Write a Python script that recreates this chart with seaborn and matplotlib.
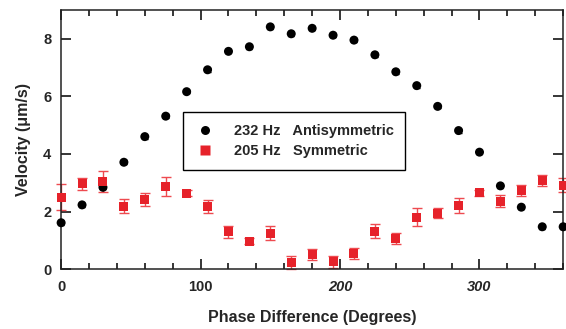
import matplotlib
matplotlib.use("Agg")
import matplotlib.pyplot as plt
import numpy as np
import pandas as pd
import seaborn as sns
from matplotlib.ticker import MultipleLocator

# phase difference (degrees), 15 degree steps
phase = [0, 15, 30, 45, 60, 75, 90, 105, 120, 135, 150, 165, 180,
         195, 210, 225, 240, 255, 270, 285, 300, 315, 330, 345, 360]

# 232 Hz antisymmetric mode
vel_232 = [1.61, 2.23, 2.84, 3.71, 4.60, 5.31, 6.16, 6.92, 7.56, 7.72, 8.41, 8.17, 8.36,
           8.12, 7.95, 7.44, 6.85, 6.37, 5.65, 4.81, 4.06, 2.89, 2.15, 1.47, 1.47]
err_232 = [0.07, 0.06, 0.06, 0.07, 0.07, 0.07, 0.06, 0.06, 0.07, 0.07, 0.07, 0.06, 0.07,
           0.07, 0.07, 0.06, 0.07, 0.07, 0.06, 0.07, 0.06, 0.06, 0.06, 0.07, 0.07]

# 205 Hz symmetric mode
vel_205 = [2.49, 2.96, 3.04, 2.19, 2.42, 2.86, 2.63, 2.17, 1.30, 0.97, 1.24, 0.23, 0.50,
           0.25, 0.55, 1.32, 1.07, 1.80, 1.94, 2.20, 2.65, 2.35, 2.72, 3.07, 2.92]
err_205 = [0.45, 0.21, 0.35, 0.24, 0.23, 0.33, 0.10, 0.22, 0.21, 0.10, 0.24, 0.21, 0.20,
           0.20, 0.20, 0.23, 0.20, 0.32, 0.18, 0.26, 0.10, 0.21, 0.19, 0.20, 0.24]

RED = "#e6222a"

sns.set_theme(style="ticks")
plt.rcParams["font.family"] = ["Liberation Sans", "DejaVu Sans"]
plt.rcParams["font.weight"] = "bold"

df = pd.DataFrame({
    "phase": phase * 2,
    "velocity": vel_232 + vel_205,
    "mode": ["232 Hz   Antisymmetric"] * len(phase) + ["205 Hz   Symmetric"] * len(phase),
})

fig = plt.figure(figsize=(5.66, 3.29), dpi=100)
ax = fig.add_axes([0.108, 0.182, 0.887, 0.788])

# error bars first, markers on top
eb = ax.errorbar(phase, vel_205, yerr=err_205, fmt="none", ecolor="#ee4a50",
                 elinewidth=1.0, capsize=3.5, capthick=1.0, zorder=2)
for art in eb.get_children():
    art.set_clip_on(False)
eb = ax.errorbar(phase, vel_232, yerr=err_232, fmt="none", ecolor="black",
                 elinewidth=1.0, capsize=2.5, capthick=1.0, zorder=2)
for art in eb.get_children():
    art.set_clip_on(False)

sns.scatterplot(data=df, x="phase", y="velocity", hue="mode", style="mode",
                palette=["black", RED], markers=["o", "s"], s=42,
                edgecolor="none", ax=ax, zorder=3, clip_on=False)

ax.set_xlim(0, 360)
ax.set_ylim(0, 9)
ax.xaxis.set_major_locator(MultipleLocator(100))
ax.xaxis.set_minor_locator(MultipleLocator(20))
ax.yaxis.set_major_locator(MultipleLocator(2))
ax.tick_params(which="both", direction="in", top=True, right=True,
               labelsize=10.5, color="black")
ax.tick_params(axis="x", pad=8)
ax.tick_params(axis="y", pad=7)
ax.tick_params(which="major", length=7, width=1.1)
ax.tick_params(which="minor", length=4, width=1.1)
for sp in ax.spines.values():
    sp.set_color("#222222")
    sp.set_linewidth(1.1)
for lab in ax.get_xticklabels() + ax.get_yticklabels():
    lab.set_fontweight("bold")
for lab in ax.get_xticklabels():
    if lab.get_text() in ("200", "300"):
        lab.set_fontstyle("italic")

ax.set_xlabel("Phase Difference (Degrees)", fontsize=11.5, fontweight="bold", labelpad=11)
ax.set_ylabel("Velocity (\u03bcm/s)", fontsize=11.5, fontweight="bold", labelpad=9)

leg = ax.legend(loc="upper left", bbox_to_anchor=(0.2425, 0.606), borderaxespad=0,
                frameon=True, fancybox=False, edgecolor="black", framealpha=1,
                prop={"size": 10.5, "weight": "bold"}, handletextpad=1.2,
                labelspacing=0.45, borderpad=0.8, handlelength=1.5)
leg.get_frame().set_linewidth(1.0)
leg.set_zorder(5)

fig.savefig("out.png", dpi=100)
